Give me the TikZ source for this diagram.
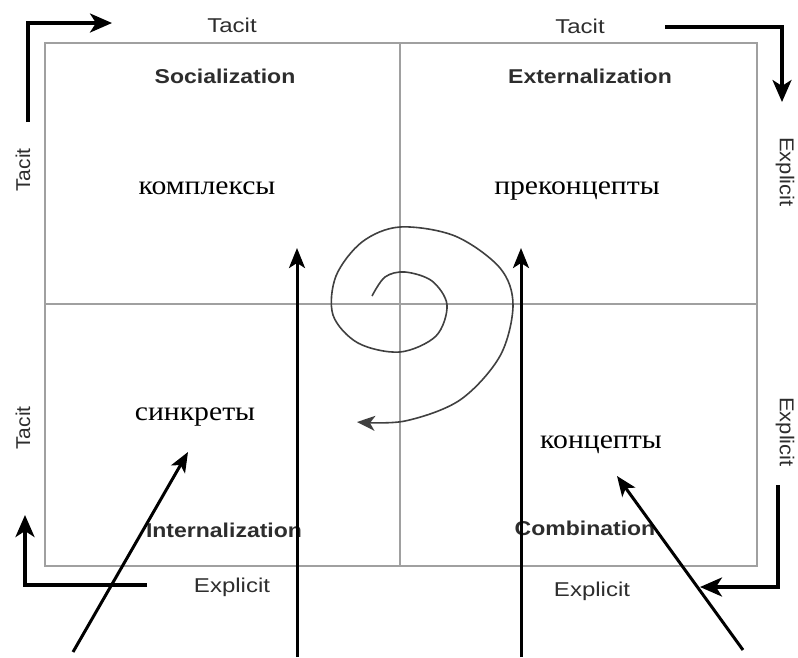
\documentclass[tikz,border=0pt]{standalone}
\usepackage{fontspec}
\setmainfont{Liberation Serif}
\newfontfamily\arialfont{Liberation Sans}
\usetikzlibrary{arrows.meta}
\definecolor{framegray}{RGB}{160,160,160}
\definecolor{labelgray}{RGB}{45,45,45}

\begin{document}
\begin{tikzpicture}[
  x=1pt, y=-1pt,
  frame/.style={draw=framegray, line width=1.4pt},
  side/.style={font=\arialfont\fontsize{20}{20}\selectfont, text=labelgray, inner sep=0pt},
  mode/.style={font=\arialfont\bfseries\fontsize{20}{20}\selectfont, text=labelgray, inner sep=0pt, xscale=1.15},
  stage/.style={font=\fontsize{27}{27}\selectfont, inner sep=0pt, xscale=1.1},
  turn/.style={-{Stealth[length=22pt, width=19pt, inset=6pt]}, line width=3.4pt},
  pointer/.style={-{Stealth[length=20pt, width=16pt, inset=5pt]}, line width=3pt},
  spiral/.style={-{Stealth[length=18pt, width=15pt, inset=5pt]}, line width=1.6pt, black!75}
]
\useasboundingbox (0,0) rectangle (798,657);

% quadrants
\draw[frame] (45,43) rectangle (757,566);
\draw[frame] (400,43) -- (400,566);
\draw[frame] (45,304) -- (757,304);

% dimension labels
\node[side, anchor=base, xscale=1.2] (tacitA) at (232,32) {Tacit};
\node[side, anchor=base, xscale=1.2] (tacitB) at (580,33) {Tacit};
\node[side, anchor=base, xscale=1.2] (explA) at (232,592) {Explicit};
\node[side, anchor=base, xscale=1.2] (explB) at (592,596) {Explicit};
\node[side, rotate=90, xscale=1.05] (tacitC) at (23,170) {Tacit};
\node[side, rotate=90, xscale=1.05] (tacitD) at (23,428) {Tacit};
\node[side, rotate=-90, xscale=1.1] (explC) at (785,172) {Explicit};
\node[side, rotate=-90, xscale=1.1] (explD) at (785,432) {Explicit};

% modes
\node[mode, anchor=base] (soc) at (225,83) {Socialization};
\node[mode, anchor=base] (ext) at (590,83) {Externalization};
\node[mode, anchor=base] (int) at (224,537) {Internalization};
\node[mode, anchor=base] (com) at (585,535) {Combination};

% stages
\node[stage, anchor=base] (kompl) at (207,194) {комплексы};
\node[stage, anchor=base] (prek) at (577,194) {преконцепты};
\node[stage, anchor=base] (sink) at (195,420) {синкреты};
\node[stage, anchor=base] (konc) at (601,448) {концепты};

% corner arrows
\coordinate (tlA) at (28,122);  \coordinate (tlB) at (112,23);
\coordinate (trA) at (665,27);  \coordinate (trB) at (782,102);
\coordinate (brA) at (778,485); \coordinate (brB) at (700,587);
\coordinate (blA) at (147,585); \coordinate (blB) at (25,515);
\draw[turn] (tlA) |- (tlB);
\draw[turn] (trA) -| (trB);
\draw[turn] (brA) |- (brB);
\draw[turn] (blA) -| (blB);

% pointers from below
\coordinate (p1) at (73,652);  \coordinate (q1) at (188,452);
\coordinate (p2) at (297,657); \coordinate (q2) at (297,248);
\coordinate (p3) at (521,657); \coordinate (q3) at (521,248);
\coordinate (p4) at (743,650); \coordinate (q4) at (617,476);
\draw[pointer] (p1) -- (q1);
\draw[pointer] (p2) -- (q2);
\draw[pointer] (p3) -- (q3);
\draw[pointer] (p4) -- (q4);

% spiral
\draw[spiral] plot[smooth, tension=0.55] coordinates {
  (372,296) (385,277) (405,272) (432,281) (447,305) (436,336)
  (400,352) (358,343) (333,315) (336,276) (362,242) (400,227)
  (455,236) (500,268) (513,305) (500,356) (460,400) (405,421) (357,422)};

\end{tikzpicture}
\end{document}
